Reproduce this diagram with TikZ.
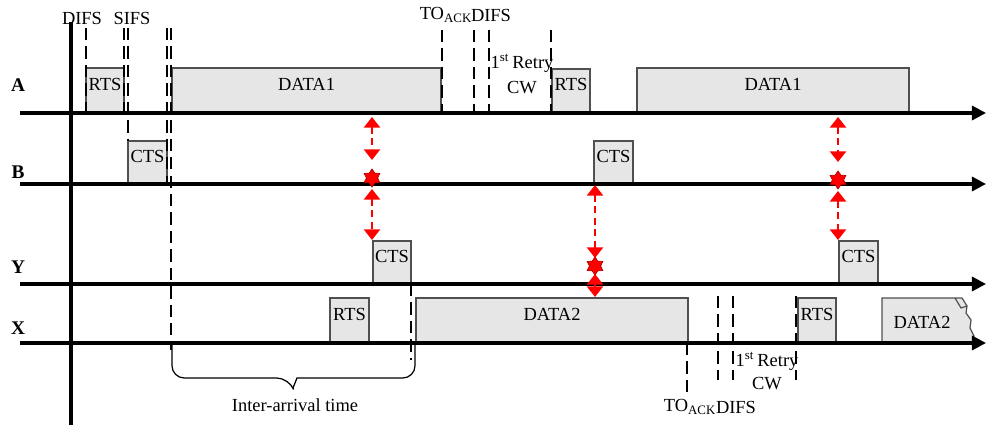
\documentclass[tikz,border=0pt]{standalone}
\usepackage{fontspec}
\setmainfont{Liberation Serif}
\usetikzlibrary{arrows.meta,shapes.geometric,fit}

\definecolor{pktfill}{RGB}{230,230,230}
\definecolor{pktline}{RGB}{80,80,80}

\tikzset{
  pkt/.style={draw=pktline, fill=pktfill, line width=0.7pt, inner sep=0pt},
  lane/.style={line width=1.8pt, -{Triangle[length=8pt,width=8pt]}},
  gap/.style={line width=1.6pt, dash pattern=on 7pt off 3.5pt},
  hit/.style={red, line width=1.6pt, dash pattern=on 4pt off 2.5pt,
    {Triangle[length=6pt,width=9pt]}-{Triangle[length=6pt,width=9pt]}},
  boom/.style={star, star points=6, star point ratio=1.6, fill=red, draw=red!70!black,
    minimum size=0.36cm, inner sep=0pt},
  lbl/.style={font=\bfseries\fontsize{11}{13}\selectfont}
}

% packet box: name, x1, y1, x2, y2, text
\newcommand{\pkt}[6]{\node[pkt, fit={(#2,#3) (#4,#5)}] (#1) {#6};}

\begin{document}
\begin{tikzpicture}[x=0.02cm, y=-0.02cm, font=\fontsize{10.5}{12}\selectfont]
  \useasboundingbox (0,0) rectangle (989,425);

  % Packets on A
  \pkt{rtsA}{86}{68}{124}{113}{RTS}
  \pkt{dataA}{172}{68}{441}{113}{DATA1}
  \pkt{rtsAA}{552}{69}{590}{113}{RTS}
  \pkt{dataAA}{637}{68}{909}{113}{DATA1}
  % Packets on B
  \pkt{ctsB}{128}{141}{167}{184}{CTS}
  \pkt{ctsBB}{594}{141}{633}{184}{CTS}
  % Packets on Y
  \pkt{ctsY}{373}{241}{411}{284}{CTS}
  \pkt{ctsYY}{839}{241}{878}{284}{CTS}
  % Packets on X
  \pkt{rtsX}{330}{298}{369}{343}{RTS}
  \pkt{dataX}{416}{298}{688}{343}{DATA2}
  \pkt{rtsXX}{798}{298}{836}{343}{RTS}
  % Torn packet
  \draw[pkt] (882,343) -- (882,298) -- (962,298) -- (967,306) -- (966,313)
    -- (971,320) -- (970,328) -- (974,336) -- (972,343) -- cycle;
  \draw[pktline, line width=0.7pt] (955,298) -- (961,308) -- (967,306);
  \node at (922,322) {DATA2};

  % Lanes
  \foreach \n/\y/\ly in {A/113/85, B/184/172, Y/284/267, X/343/328} {
    \node[lbl] (lab\n) at (18,\ly) {\n};
    \draw[lane] (20,\y) coordinate (s\n) -- (986,\y) coordinate (e\n);
  }

  % Time origin
  \draw[line width=1.8pt] (71,22) -- (71,425);

  % Interframe spaces, top
  \draw[gap] (86,28) -- (86,113);
  \draw[gap] (124,28) -- (124,113);
  \draw[gap] (128,28) -- (128,141);
  \draw[gap] (167,28) -- (167,184);
  \draw[gap] (171,28) -- (171,350);
  \draw[gap] (442,30) -- (442,113);
  \draw[gap] (474,30) -- (474,113);
  \draw[gap] (489,30) -- (489,113);
  \draw[gap] (551,30) -- (551,113);
  % Interframe spaces, bottom
  \draw[gap] (411,284) -- (411,360);
  \draw[gap] (687,343) -- (687,392);
  \draw[gap] (718,296) -- (718,380);
  \draw[gap] (733,296) -- (733,380);
  \draw[gap] (796,296) -- (796,380);

  % Labels
  \node (difsA) at (82,18) {DIFS};
  \node (sifsA) at (132,18) {SIFS};
  \node (toA) at (446,15) {TO\textsubscript{ACK}};
  \node (difsAA) at (491,15) {DIFS};
  \node (retryA) at (522,63) {1\textsuperscript{st}\,Retry};
  \node (cwA) at (522,88) {CW};
  \node (retryX) at (767,361) {1\textsuperscript{st}\,Retry};
  \node (cwX) at (767,384) {CW};
  \node (toX) at (690,407) {TO\textsubscript{ACK}};
  \node (difsX) at (736,407) {DIFS};

  % Inter-arrival time
  \draw[line width=0.7pt] (172,345) [rounded corners=7pt] |- (289,378)
    [sharp corners] -- (293,388) -- (297,378) [rounded corners=7pt] -| (415,345);
  \node (iat) at (295,405) {Inter-arrival time};

  % Collisions
  \node[boom] (hit1) at (372,178) {};
  \node[boom] (hit2) at (595,266) {};
  \node[boom] (hit3) at (838,180) {};
  \coordinate (u1) at (372,117);
  \coordinate (u3) at (838,117);
  \draw[hit] (u1) -- (372,160);
  \draw[hit] (372,189) -- (372,240);
  \draw[hit] (595,185) -- (595,258);
  \draw[hit] (595,274) -- (595,297);
  \draw[hit] (u3) -- (838,162);
  \draw[hit] (838,191) -- (838,240);
\end{tikzpicture}
\end{document}
